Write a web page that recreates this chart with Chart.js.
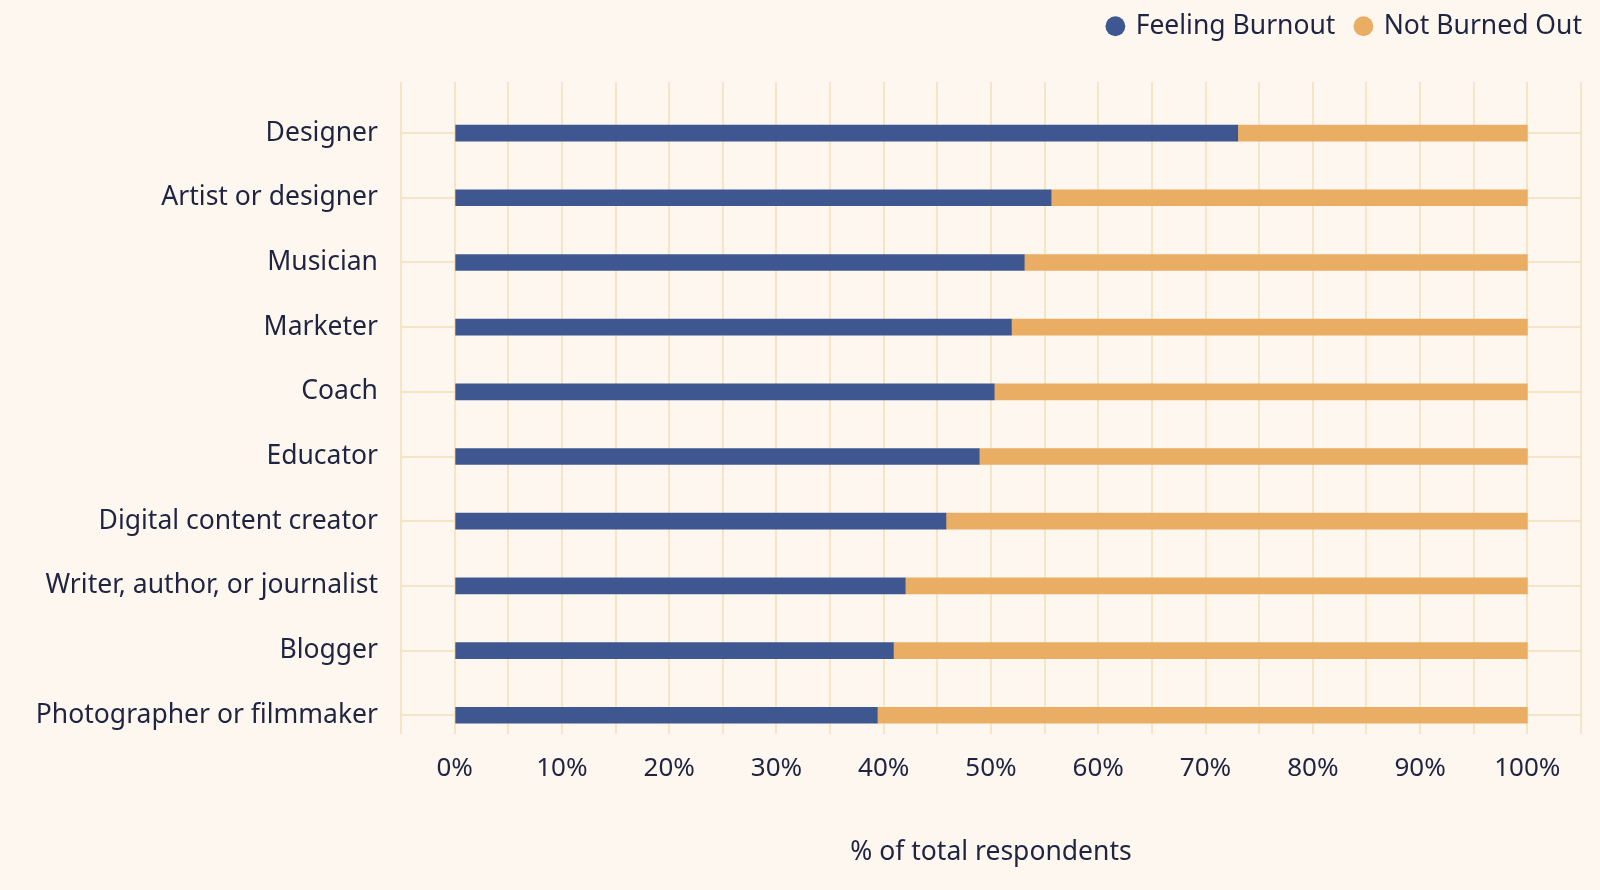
<!DOCTYPE html>
<html>
<head>
<meta charset="utf-8">
<title>Burnout by creator type</title>
<script src="https://cdn.jsdelivr.net/npm/chart.js@4.4.1/dist/chart.umd.min.js"></script>
<style>
  html, body { margin: 0; padding: 0; background: #fdf7ef; }
  #wrap { width: 1600px; height: 890px; }
</style>
</head>
<body>
<div id="wrap"><canvas id="burnoutChart"></canvas></div>
<script>
// data
const categories = [
  'Designer',
  'Artist or designer',
  'Musician',
  'Marketer',
  'Coach',
  'Educator',
  'Digital content creator',
  'Writer, author, or journalist',
  'Blogger',
  'Photographer or filmmaker'
];
const feelingBurnout = [73.0, 55.6, 53.1, 51.9, 50.3, 48.9, 45.8, 42.0, 40.9, 39.4];
const notBurnedOut   = [27.0, 44.4, 46.9, 48.1, 49.7, 51.1, 54.2, 58.0, 59.1, 60.6];
const xTickValues = [0, 10, 20, 30, 40, 50, 60, 70, 80, 90, 100];

const BLUE = '#3f5790';
const ORANGE = '#e9ae64';
const GRID = '#f6e4c6';
const TEXT = '#1f2440';

Chart.defaults.font.family = "'Noto Sans', sans-serif";
Chart.defaults.color = TEXT;

// legend: fixed height so the plot starts where the reference does,
// then nudged up/right so wider item gaps still sit near the corner
const legendPlacement = {
  id: 'legendPlacement',
  afterInit(chart) {
    const fit = chart.legend.fit;
    chart.legend.fit = function () {
      fit.call(this);
      this.height = 82;
    };
  },
  afterLayout(chart) {
    chart.legend.right += 19;
    chart.legend.top -= 8;
  }
};

const ctx = document.getElementById('burnoutChart').getContext('2d');
new Chart(ctx, {
  type: 'bar',
  data: {
    datasets: [
      {
        label: 'Feeling Burnout',
        data: feelingBurnout.map((v, i) => ({ x: v, y: i })),
        backgroundColor: BLUE,
        barThickness: 16
      },
      {
        label: 'Not Burned Out',
        data: notBurnedOut.map((v, i) => ({ x: v, y: i })),
        backgroundColor: ORANGE,
        barThickness: 16
      }
    ]
  },
  options: {
    indexAxis: 'y',
    responsive: true,
    maintainAspectRatio: false,
    animation: false,
    layout: { padding: { top: 0, right: 16, bottom: 22, left: 0 } },
    plugins: {
      tooltip: { enabled: false },
      legend: {
        position: 'top',
        align: 'end',
        labels: {
          usePointStyle: true,
          pointStyle: 'circle',
          boxWidth: 14,
          boxHeight: 14,
          padding: 21,
          color: TEXT,
          font: { size: 26.5 }
        }
      }
    },
    scales: {
      x: {
        type: 'linear',
        stacked: true,
        min: -5,
        max: 105,
        border: { display: false },
        grid: { color: GRID, lineWidth: 2, drawTicks: false },
        ticks: {
          stepSize: 5,
          padding: 19,
          maxRotation: 0,
          autoSkip: false,
          color: TEXT,
          font: { size: 26 },
          callback: (v) => xTickValues.includes(v) ? v + '%' : ''
        },
        title: {
          display: true,
          text: '% of total respondents',
          color: TEXT,
          font: { size: 26.5 },
          padding: { top: 33, bottom: 0 }
        }
      },
      y: {
        type: 'linear',
        stacked: true,
        reverse: true,
        offset: false,
        min: -0.79,
        max: 9.29,
        border: { display: false },
        grid: { color: GRID, lineWidth: 2, drawTicks: false, offset: false },
        afterFit(scale) { scale.width = 401; },
        ticks: {
          stepSize: 1,
          includeBounds: false,
          autoSkip: false,
          padding: 23,
          color: TEXT,
          font: { size: 26.5 },
          callback: (v) => categories[v] !== undefined ? categories[v] : ''
        }
      }
    }
  },
  plugins: [legendPlacement]
});
</script>
</body>
</html>
